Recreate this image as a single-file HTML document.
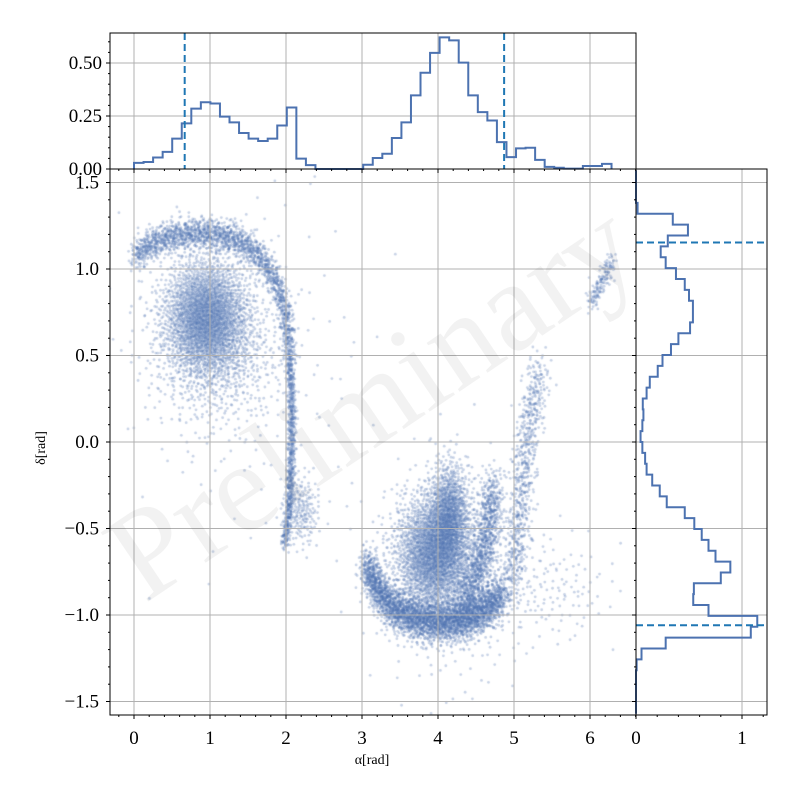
<!DOCTYPE html>
<html><head><meta charset="utf-8">
<style>
html,body{margin:0;padding:0;background:#fff;}
#wrap{position:relative;width:800px;height:800px;overflow:hidden;}
canvas,svg{position:absolute;left:0;top:0;}
text{font-family:"Liberation Serif",serif;fill:#000;}
</style></head>
<body>
<div id="wrap">
<canvas id="cv" width="800" height="800"></canvas>
<svg id="sv" width="800" height="800"></svg>
</div>
<script>
// ---- data ----
const alphaHist = [0.029,0.033,0.054,0.081,0.143,0.215,0.285,0.315,0.309,0.247,0.22,0.17,0.143,0.132,0.143,0.205,0.29,0.049,0.018,0,0,0,0,0,0.02,0.052,0.072,0.146,0.22,0.347,0.454,0.548,0.621,0.607,0.502,0.347,0.268,0.229,0.127,0.056,0.097,0.1,0.043,0.01,0.006,0.002,0.002,0.014,0.014,0.024];
// listed from top (delta=+pi/2) downward
const deltaHistTopDown = [0,0,0,0.015,0.347,0.49,0.30,0.233,0.28,0.377,0.46,0.5,0.537,0.537,0.51,0.4,0.33,0.25,0.205,0.13,0.1,0.064,0.07,0.06,0.043,0.06,0.086,0.1,0.153,0.224,0.29,0.46,0.55,0.62,0.684,0.75,0.89,0.8,0.546,0.54,0.684,1.144,1.083,0.28,0.052,0.006,0,0,0,0];
const alphaLines = [0.667, 4.87];
const deltaLines = [1.153, -1.059];
const xTicks = [0,1,2,3,4,5,6];
const yTicks = [-1.5,-1.0,-0.5,0.0,0.5,1.0,1.5];
const topYTicks = [0,0.25,0.5];
const rightXTicks = [0,1];
// gaussian blobs: [alpha, delta, sigmaAlpha, sigmaDelta, count]
const blobs = [
 [0.95,0.72,0.28,0.17,2600],
 [1.1,0.5,0.45,0.22,700],
 [2.2,-0.4,0.12,0.1,200],
 [1.5,0.5,0.8,0.6,150],
 [3.95,-0.65,0.25,0.17,2400],
 [4.15,-0.42,0.13,0.15,1000],
 [5.5,-0.85,0.4,0.15,120],
 [4.2,-0.75,0.5,0.3,500]
];
// arcs: polyline vertices (alpha, delta), width sigma, count
const arcPaths = [
 [[0.0,1.07],[0.2,1.14],[0.5,1.19],[0.9,1.21],[1.3,1.18],[1.6,1.1],[1.85,0.95],[2.0,0.75],[2.05,0.5]],
 [[2.05,0.5],[2.08,0.2],[2.07,-0.1],[2.05,-0.35],[1.98,-0.6]],
 [[3.05,-0.7],[3.2,-0.85],[3.4,-0.96],[3.7,-1.02],[4.0,-1.04],[4.3,-1.03],[4.6,-0.98],[4.85,-0.88]],
 [[4.3,-0.95],[4.5,-0.8],[4.62,-0.6],[4.7,-0.4],[4.72,-0.25]],
 [[4.95,-0.85],[5.05,-0.55],[5.12,-0.2],[5.2,0.1],[5.28,0.3],[5.35,0.42]],
 [[6.0,0.8],[6.15,0.92],[6.3,1.05]]
];
const arcWidths = [0.045,0.028,0.06,0.08,0.08,0.035];
const arcCounts = [1800,700,3200,1000,700,150];

// ---- scales ----
const MX0=110,MX1=636,MY0=169,MY1=715;
const X=a=>134+76*a;
const Y=d=>442-173*d;
const TY=v=>169-212*v;   // top hist
const RX=v=>636+106*v;   // right hist
const NS='http://www.w3.org/2000/svg';
const sv=document.getElementById('sv');
function el(tag,attrs,parent){const e=document.createElementNS(NS,tag);for(const k in attrs)e.setAttribute(k,attrs[k]);(parent||sv).appendChild(e);return e;}

// ---- scatter on canvas ----
const ctx=document.getElementById('cv').getContext('2d');
ctx.save();ctx.beginPath();ctx.rect(MX0,MY0,MX1-MX0,MY1-MY0);ctx.clip();
ctx.fillStyle='rgba(76,114,176,0.3)';
function halton(i,b){let f=1,r=0;while(i>0){f/=b;r+=f*(i%b);i=Math.floor(i/b);}return r;}
function gauss(i){const u1=Math.max(halton(i,2),1e-6),u2=halton(i,3);const r=Math.sqrt(-2*Math.log(u1));return [r*Math.cos(2*Math.PI*u2),r*Math.sin(2*Math.PI*u2)];}
function dot(a,d){ctx.beginPath();ctx.arc(X(a),Y(d),1.4,0,6.2832);ctx.fill();}
let off=1;
blobs.forEach(b=>{for(let i=0;i<b[4];i++){const g=gauss(off+i);dot(b[0]+g[0]*b[2],b[1]+g[1]*b[3]);}off+=b[4]+17;});
arcPaths.forEach((p,k)=>{
 const L=[0];for(let i=1;i<p.length;i++)L.push(L[i-1]+Math.hypot(p[i][0]-p[i-1][0],p[i][1]-p[i-1][1]));
 const tot=L[L.length-1];
 for(let i=0;i<arcCounts[k];i++){
  const t=halton(off+i,5)*tot;let j=1;while(j<p.length-1&&L[j]<t)j++;
  const f=(t-L[j-1])/(L[j]-L[j-1]);
  const g=gauss(off+i);
  dot(p[j-1][0]+f*(p[j][0]-p[j-1][0])+g[0]*arcWidths[k],p[j-1][1]+f*(p[j][1]-p[j-1][1])+g[1]*arcWidths[k]);
 }
 off+=arcCounts[k]+29;
});
ctx.restore();

// ---- grids ----
const grid=el('g',{stroke:'#b0b0b0','stroke-width':1});
xTicks.forEach(a=>{el('line',{x1:X(a),x2:X(a),y1:MY0,y2:MY1},grid);el('line',{x1:X(a),x2:X(a),y1:33,y2:169},grid);});
yTicks.forEach(d=>{el('line',{x1:MX0,x2:MX1,y1:Y(d),y2:Y(d)},grid);el('line',{x1:636,x2:767,y1:Y(d),y2:Y(d)},grid);});
topYTicks.forEach(v=>el('line',{x1:110,x2:636,y1:TY(v),y2:TY(v)},grid));
rightXTicks.forEach(v=>el('line',{x1:RX(v),x2:RX(v),y1:169,y2:715},grid));

// watermark
const wm=el('text',{x:0,y:0,'font-size':128,fill:'#000','fill-opacity':0.05,'text-anchor':'middle',transform:'translate(395,435) rotate(-34)'});
wm.textContent='Preliminary';



// ---- top histogram ----
const bwA=2*Math.PI/alphaHist.length;
let dT='M'+X(0)+','+TY(0);
alphaHist.forEach((v,i)=>{dT+=' L'+X(i*bwA)+','+TY(v)+' L'+X((i+1)*bwA)+','+TY(v);});
dT+=' L'+X(2*Math.PI)+','+TY(0);
el('path',{d:dT,fill:'none',stroke:'#4c72b0','stroke-width':2,});
alphaLines.forEach(a=>el('line',{x1:X(a),x2:X(a),y1:33,y2:169,stroke:'#1f77b4','stroke-width':2,'stroke-dasharray':'7,4',}));

// ---- right histogram ----
const deltaHist=deltaHistTopDown.slice().reverse();
const bwD=Math.PI/deltaHist.length;
let dR='M'+RX(0)+','+Y(-Math.PI/2);
deltaHist.forEach((v,i)=>{const d0=-Math.PI/2+i*bwD;dR+=' L'+RX(v)+','+Y(d0)+' L'+RX(v)+','+Y(d0+bwD);});
dR+=' L'+RX(0)+','+Y(Math.PI/2);
el('path',{d:dR,fill:'none',stroke:'#4c72b0','stroke-width':2,});
deltaLines.forEach(d=>el('line',{x1:636,x2:767,y1:Y(d),y2:Y(d),stroke:'#1f77b4','stroke-width':2,'stroke-dasharray':'7,4',}));

// ---- frames ----
el('rect',{x:110,y:33,width:526,height:136,fill:'none',stroke:'#000','stroke-width':1,});
el('rect',{x:110,y:169,width:526,height:546,fill:'none',stroke:'#000','stroke-width':1,});
el('rect',{x:636,y:169,width:131,height:546,fill:'none',stroke:'#000','stroke-width':1,});

// ---- ticks & labels ----
const tk=el('g',{stroke:'#000','stroke-width':1,});
for(let a=-0.2;a<=6.61;a+=0.2){const x=X(a);const maj=Math.abs(a-Math.round(a))<1e-6;el('line',{x1:x,x2:x,y1:715,y2:715+(maj?4:2)},tk);el('line',{x1:x,x2:x,y1:169,y2:169+(maj?4:2)},tk);}
for(let d=-1.5;d<=1.51;d+=0.1){const y=Y(d);const maj=Math.abs(d*2-Math.round(d*2))<1e-6;el('line',{x1:110,x2:110-(maj?4:2),y1:y,y2:y},tk);el('line',{x1:636,x2:636-(maj?4:2),y1:y,y2:y},tk);}
for(let v=0;v<=0.61;v+=0.05){const y=TY(v);const maj=Math.abs(v*4-Math.round(v*4))<1e-6;el('line',{x1:110,x2:110-(maj?4:2),y1:y,y2:y},tk);}
for(let v=0;v<=1.21;v+=0.2){const x=RX(v);const maj=Math.abs(v-Math.round(v))<1e-6;el('line',{x1:x,x2:x,y1:715,y2:715+(maj?4:2)},tk);}

xTicks.forEach(a=>{const t=el('text',{x:X(a),y:744,'font-size':19,'text-anchor':'middle'});t.textContent=String(a);
});
yTicks.forEach(d=>{const t=el('text',{x:99,y:Y(d)+6,'font-size':19,'text-anchor':'end'});t.textContent=(d<0?'\u2212':'')+Math.abs(d).toFixed(1);
});
topYTicks.forEach(v=>{const t=el('text',{x:102,y:TY(v)+6,'font-size':19,'text-anchor':'end'});t.textContent=v.toFixed(2);
});
rightXTicks.forEach(v=>{const t=el('text',{x:RX(v),y:744,'font-size':19,'text-anchor':'middle'});t.textContent=String(v);
});

const xl=el('text',{x:372,y:764,'font-size':14,'text-anchor':'middle',});xl.textContent='\u03b1[rad]';
const yl=el('text',{x:0,y:0,'font-size':14,'text-anchor':'middle',transform:'translate(45,448) rotate(-90)',});yl.textContent='\u03b4[rad]';
</script>
</body></html>
